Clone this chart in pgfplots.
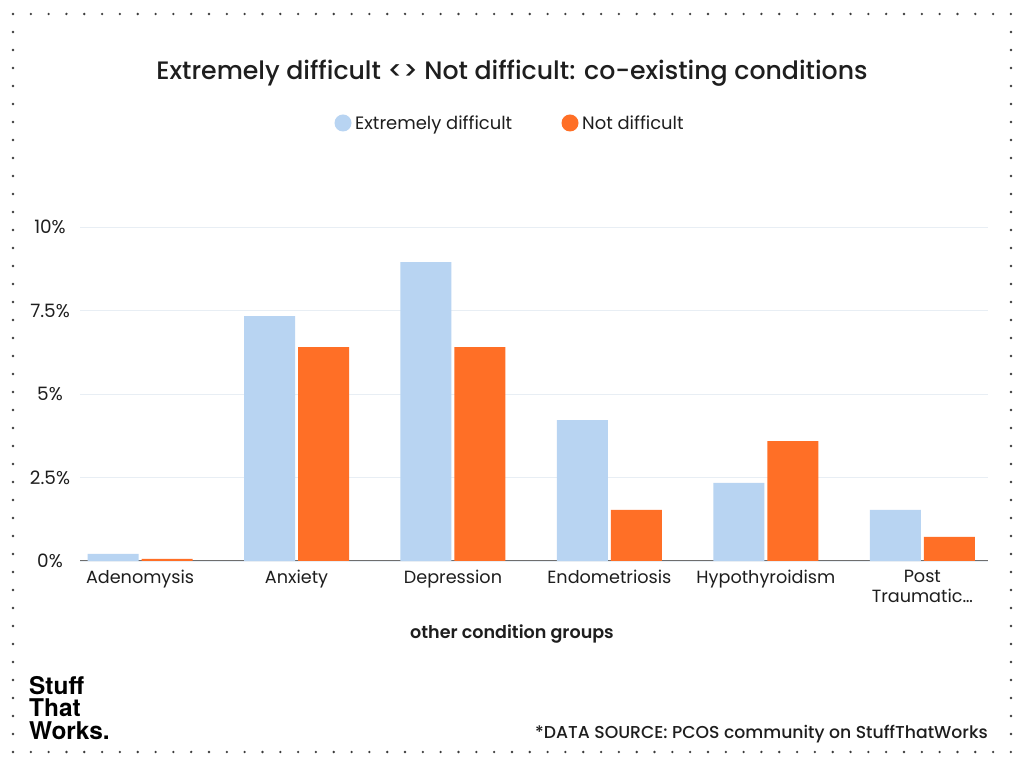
\documentclass[border=0pt]{standalone}
\usepackage{pgfplots}
\pgfplotsset{compat=1.18}
\usepackage{fontspec}
\setmainfont{Poppins}
\newfontfamily\pmed{Poppins Medium}
\newfontfamily\psemi{Poppins SemiBold}
\newfontfamily\logofont{TeX Gyre Heros}
\definecolor{blueb}{RGB}{184,212,242}
\definecolor{orangeb}{RGB}{255,111,38}
\definecolor{gridc}{RGB}{232,238,244}
\definecolor{dotc}{RGB}{60,60,60}
\definecolor{axisc}{RGB}{110,110,110}
\definecolor{txt}{RGB}{30,30,30}
\begin{document}
\begin{tikzpicture}[x=1bp,y=1bp]
\useasboundingbox[fill=white] (0,0) rectangle (1024,768);
% dotted frame
\foreach \i in {0,...,56} {
  \fill[dotc] ({13+\i*17.82},754) circle (1.3);
  \fill[dotc] ({13+\i*17.82},16) circle (1.3);
}
\foreach \j in {1,...,40} {
  \fill[dotc] (13,{754-\j*18.0}) circle (1.3);
  \fill[dotc] (1011,{754-\j*18.0}) circle (1.3);
}
% title
\node[font=\pmed\fontsize{25.3}{28}\selectfont, text=txt] at (512,695) {Extremely difficult <> Not difficult: co-existing conditions};
% legend
\fill[blueb] (343,645) circle (8.5);
\node[anchor=base west, font=\fontsize{18}{20}\selectfont, text=txt, inner sep=0pt] at (355,638.5) {Extremely difficult};
\fill[orangeb] (570,645) circle (8.5);
\node[anchor=base west, font=\fontsize{18}{20}\selectfont, text=txt, inner sep=0pt] at (582,638.5) {Not difficult};
\begin{axis}[
  at={(80bp,207bp)}, anchor=south west,
  scale only axis, width=908bp, height=334bp,
  xmin=-0.384, xmax=5.42, ymin=0, ymax=10,
  ybar, bar width=51bp,
  xtick={0,1,2,3,4,5},
  xticklabels={Adenomysis,Anxiety,Depression,Endometriosis,Hypothyroidism,{Post\\Traumatic…}},
  xticklabel style={align=center, font=\fontsize{17.7}{19.5}\selectfont, text=txt, yshift=-6bp},
  ytick={0,2.5,5,7.5,10},
  yticklabels={0\%,2.5\%,5\%,7.5\%,10\%},
  yticklabel style={anchor=center, xshift=-30bp, font=\fontsize{18.5}{20}\selectfont, text=txt},
  ymajorgrids, grid style={gridc, line width=0.8bp},
  axis x line*=bottom, axis y line*=left,
  x axis line style={axisc, line width=1bp, -},
  y axis line style={draw=none},
  major tick length=0pt, tick style={draw=none},
  clip=false,
]
\addplot[fill=blueb, draw=none, bar shift=-27bp] coordinates {(0,0.21) (1,7.33) (2,8.95) (3,4.22) (4,2.34) (5,1.53)};
\addplot[fill=orangeb, draw=none, bar shift=27bp] coordinates {(0,0.06) (1,6.40) (2,6.40) (3,1.53) (4,3.59) (5,0.72)};
\end{axis}
% axis label
\node[font=\psemi\fontsize{17.6}{19}\selectfont, text=txt] at (512,134) {other condition groups};
% source
\node[anchor=base east, font=\pmed\fontsize{17.3}{19}\selectfont, text=txt, inner sep=0pt] at (988,29) {*DATA SOURCE: PCOS community on StuffThatWorks};
% logo
\node[anchor=north west, align=left, font=\logofont\bfseries\fontsize{24.5}{22.5}\selectfont, inner sep=0pt] at (29,92) {Stuff\\That\\Works.};
\end{tikzpicture}
\end{document}
